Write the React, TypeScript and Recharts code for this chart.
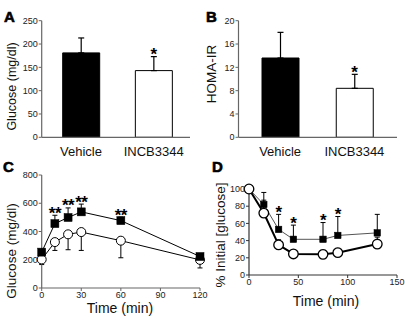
import React from 'react';
import {
  ComposedChart,
  Bar,
  Cell,
  XAxis,
  YAxis,
  ErrorBar,
  Line,
  Scatter,
} from 'recharts';

// ---- Panel A / B data ----
const groups = ['Vehicle', 'INCB3344'];
const glucoseMean = [181, 143];
const glucoseErr = [32, 30];
const homaMean = [13.6, 8.4];
const homaErr = [4.4, 2.4];
const barSig = ['', '*'];
const glucoseTicks = [0, 50, 100, 150, 200, 250];
const homaTicks = [0, 4, 8, 12, 16, 20];

// ---- Panel C data (glucose tolerance) ----
const timeC = [0, 10, 20, 30, 60, 120];
const vehicleC = [254, 456, 499, 539, 477, 223];
const vehicleErrC = [12, 59, 68, 55, 25, 8];
const incbC = [202, 325, 380, 396, 335, 199];
const incbErrC = [36, 59, 109, 130, 121, 57];
const sigC = ['', '**', '**', '**', '**', ''];
const ticksCy = [0, 200, 400, 600, 800];
const ticksCx = [0, 30, 60, 90, 120];

// ---- Panel D data (% initial glucose) ----
const timeD = [0, 15, 30, 45, 75, 90, 130];
const vehicleD = [100, 82, 53, 41.5, 41.5, 46, 49];
const vehicleErrD = [0, 14, 17.5, 16.5, 19.5, 22, 21.5];
const incbD = [100, 72, 35, 24.5, 24, 26, 36];
const incbErrD = [0, 15, 6, 4.5, 5, 5, 8];
const sigD = ['', '', '*', '*', '*', '*', ''];
const ticksDy = [0, 20, 40, 60, 80, 100];
const ticksDx = [0, 50, 100, 150];

const FONT = '"Liberation Sans", Arial, Helvetica, sans-serif';
const AXIS = '#666';
const TICKTXT = { fontSize: 9, fill: '#222', fontFamily: FONT };

const dataA = groups.map((g, i) => ({
  name: g,
  v: glucoseMean[i],
  e: [0, glucoseErr[i]],
  star: barSig[i] ? glucoseMean[i] + glucoseErr[i] : null,
  sig: barSig[i],
}));
const dataB = groups.map((g, i) => ({
  name: g,
  v: homaMean[i],
  e: [0, homaErr[i]],
  star: barSig[i] ? homaMean[i] + homaErr[i] : null,
  sig: barSig[i],
}));
const dataC = timeC.map((t, i) => ({
  t,
  veh: vehicleC[i],
  vehE: [0, vehicleErrC[i]],
  inc: incbC[i],
  incE: [incbErrC[i], 0],
  star: sigC[i] ? vehicleC[i] + vehicleErrC[i] : null,
  sig: sigC[i],
}));
const dataD = timeD.map((t, i) => ({
  t,
  veh: vehicleD[i],
  vehE: [0, vehicleErrD[i]],
  inc: incbD[i],
  incE: [0, incbErrD[i]],
  star: sigD[i] ? vehicleD[i] + vehicleErrD[i] : null,
  sig: sigD[i],
}));

const StarShape = (props: any) => {
  const { cx, cy, payload } = props;
  if (!payload || !payload.sig || cx == null || cy == null) return <g />;
  return (
    <text
      x={cx}
      y={cy + 3.5}
      textAnchor="middle"
      fontSize={17}
      fontWeight="bold"
      fontFamily={FONT}
      fill="#000"
      letterSpacing={-0.5}
    >
      {payload.sig}
    </text>
  );
};

const SquareDot = (size: number) => (props: any) => {
  const { cx, cy } = props;
  if (cx == null || cy == null) return <g />;
  return <rect x={cx - size / 2} y={cy - size / 2} width={size} height={size} fill="#000" stroke="#000" strokeWidth={0.5} />;
};
const CircleDot = (r: number, sw: number) => (props: any) => {
  const { cx, cy } = props;
  if (cx == null || cy == null) return <circle r={0} />;
  return <circle cx={cx} cy={cy} r={r} fill="#fff" stroke="#000" strokeWidth={sw} />;
};

const pos = (left: number, top: number, w: number, h: number): React.CSSProperties => ({
  position: 'absolute',
  left,
  top,
  width: w,
  height: h,
});

function BarPanel({ data, ticks, max, yW, right, xPad }: any) {
  return (
    <ComposedChart
      width={205}
      height={160}
      data={data}
      margin={{ top: 20.7, right, bottom: 0, left: 0 }}
    >
      <XAxis
        dataKey="name"
        axisLine={{ stroke: AXIS, strokeWidth: 1.2 }}
        tickLine={false}
        tick={{ fontSize: 13, fill: '#111', fontFamily: FONT, dy: 1 }}
        padding={xPad}
        height={22.7}
        interval={0}
      />
      <YAxis
        domain={[0, max]}
        ticks={ticks}
        width={yW}
        axisLine={{ stroke: AXIS, strokeWidth: 1.2 }}
        tickLine={{ stroke: AXIS }}
        tickSize={3}
        tickMargin={1}
        tick={TICKTXT}
        interval={0}
      />
      <Bar dataKey="v" barSize={37} isAnimationActive={false} stroke="#000" strokeWidth={1}>
        {data.map((d: any, i: number) => (
          <Cell key={i} fill={i === 0 ? '#000' : '#fff'} />
        ))}
        <ErrorBar dataKey="e" width={3} stroke="#000" strokeWidth={1.2} direction="y" />
      </Bar>
      <Scatter dataKey="star" shape={StarShape} isAnimationActive={false} />
    </ComposedChart>
  );
}

export default function App() {
  return (
    <div style={{ position: 'absolute', left: 0, top: 0, width: 405, height: 321, background: '#fff', overflow: 'hidden' }}>
      {/* Panel A */}
      <div style={pos(0, 0, 205, 160)}>
        <BarPanel data={dataA} ticks={glucoseTicks} max={250} yW={41.7} right={15} xPad={{ left: 3, right: 0 }} />
      </div>
      {/* Panel B */}
      <div style={pos(200, 0, 205, 160)}>
        <BarPanel data={dataB} ticks={homaTicks} max={20} yW={38.5} right={8} xPad={{ left: 4.5, right: 5.5 }} />
      </div>

      {/* Panel C */}
      <div style={pos(0, 160, 215, 150)}>
        <ComposedChart width={215} height={150} data={dataC} margin={{ top: 15, right: 15, bottom: 0, left: 0 }}>
          <XAxis
            dataKey="t"
            type="number"
            domain={[0, 120]}
            ticks={ticksCx}
            axisLine={{ stroke: AXIS, strokeWidth: 1.2 }}
            tickLine={{ stroke: AXIS }}
            tickSize={3}
            tickMargin={1}
            tick={TICKTXT}
            height={22}
            interval={0}
          />
          <XAxis
            xAxisId="top"
            orientation="top"
            dataKey="t"
            type="number"
            domain={[0, 120]}
            axisLine={{ stroke: '#999', strokeWidth: 1 }}
            tick={false}
            tickLine={false}
            height={0}
          />
          <YAxis
            domain={[0, 800]}
            ticks={ticksCy}
            width={41.7}
            axisLine={{ stroke: AXIS, strokeWidth: 1.2 }}
            tickLine={{ stroke: AXIS }}
            tickSize={3}
            tickMargin={1}
            tick={TICKTXT}
            interval={0}
          />
          <YAxis
            yAxisId="r"
            orientation="right"
            domain={[0, 800]}
            ticks={ticksCy}
            mirror
            width={0}
            axisLine={{ stroke: AXIS, strokeWidth: 1 }}
            tickLine={{ stroke: AXIS }}
            tickSize={3}
            tickFormatter={() => ''}
            interval={0}
          />
          <Line
            dataKey="inc"
            stroke="#000"
            strokeWidth={1}
            dot={CircleDot(4.5, 1)}
            isAnimationActive={false}
          >
            <ErrorBar dataKey="incE" width={2.5} stroke="#000" strokeWidth={1} direction="y" />
          </Line>
          <Line
            dataKey="veh"
            stroke="#000"
            strokeWidth={1}
            dot={SquareDot(8)}
            isAnimationActive={false}
          >
            <ErrorBar dataKey="vehE" width={2.5} stroke="#000" strokeWidth={1} direction="y" />
          </Line>
          <Scatter dataKey="star" shape={StarShape} isAnimationActive={false} />
        </ComposedChart>
      </div>

      {/* Panel D */}
      <div style={pos(200, 170, 205, 140)}>
        <ComposedChart width={205} height={140} data={dataD} margin={{ top: 19, right: 8, bottom: 0, left: 0 }}>
          <XAxis
            dataKey="t"
            type="number"
            domain={[0, 150]}
            ticks={ticksDx}
            axisLine={{ stroke: '#333', strokeWidth: 1.2 }}
            tickLine={{ stroke: '#333' }}
            tickSize={3}
            tickMargin={1}
            tick={TICKTXT}
            height={35}
            interval={0}
          />
          <XAxis
            xAxisId="top"
            orientation="top"
            dataKey="t"
            type="number"
            domain={[0, 150]}
            axisLine={{ stroke: '#333', strokeWidth: 1 }}
            tick={false}
            tickLine={false}
            height={0}
          />
          <YAxis
            domain={[0, 100]}
            ticks={ticksDy}
            width={49}
            axisLine={{ stroke: '#333', strokeWidth: 1.2 }}
            tickLine={{ stroke: '#333' }}
            tickSize={3}
            tickMargin={1}
            tick={TICKTXT}
            interval={0}
          />
          <YAxis
            yAxisId="r"
            orientation="right"
            domain={[0, 100]}
            ticks={ticksDy}
            mirror
            width={0}
            axisLine={{ stroke: '#333', strokeWidth: 1 }}
            tickLine={{ stroke: '#333' }}
            tickSize={3}
            tickFormatter={() => ''}
            interval={0}
          />
          <Line
            dataKey="veh"
            stroke="#555"
            strokeWidth={1}
            dot={SquareDot(6.5)}
            isAnimationActive={false}
          >
            <ErrorBar dataKey="vehE" width={2.5} stroke="#000" strokeWidth={1} direction="y" />
          </Line>
          <Line
            dataKey="inc"
            stroke="#000"
            strokeWidth={2}
            dot={CircleDot(4.8, 1.3)}
            isAnimationActive={false}
          >
            <ErrorBar dataKey="incE" width={2.5} stroke="#000" strokeWidth={1} direction="y" />
          </Line>
          <Scatter dataKey="star" shape={StarShape} isAnimationActive={false} />
        </ComposedChart>
      </div>

      {/* Overlay text: panel letters and axis titles */}
      <svg width={405} height={321} style={{ position: 'absolute', left: 0, top: 0, pointerEvents: 'none' }} fontFamily={FONT}>
        <text x={4} y={22} fontSize={15} fontWeight="900" fill="#000" stroke="#000" strokeWidth={0.6}>A</text>
        <text x={206} y={22} fontSize={15} fontWeight="900" fill="#000" stroke="#000" strokeWidth={0.6}>B</text>
        <text x={3} y={171.5} fontSize={15} fontWeight="900" fill="#000" stroke="#000" strokeWidth={0.6}>C</text>
        <text x={212} y={171.5} fontSize={15} fontWeight="900" fill="#000" stroke="#000" strokeWidth={0.6}>D</text>

        <text transform="translate(16,86.5) rotate(-90)" textAnchor="middle" fontSize={12.5} fill="#111">Glucose (mg/dl)</text>
        <text transform="translate(216,74) rotate(-90)" textAnchor="middle" fontSize={13.5} fill="#111">HOMA-IR</text>
        <text transform="translate(16,251) rotate(-90)" textAnchor="middle" fontSize={13.5} fill="#111">Glucose (mg/dl)</text>
        <text transform="translate(225,235) rotate(-90)" textAnchor="middle" fontSize={13.5} fill="#111">% Initial [glucose]</text>

        <text x={120} y={313} textAnchor="middle" fontSize={14} fill="#111">Time (min)</text>
        <text x={326} y={306} textAnchor="middle" fontSize={14} fill="#111">Time (min)</text>
      </svg>
    </div>
  );
}
